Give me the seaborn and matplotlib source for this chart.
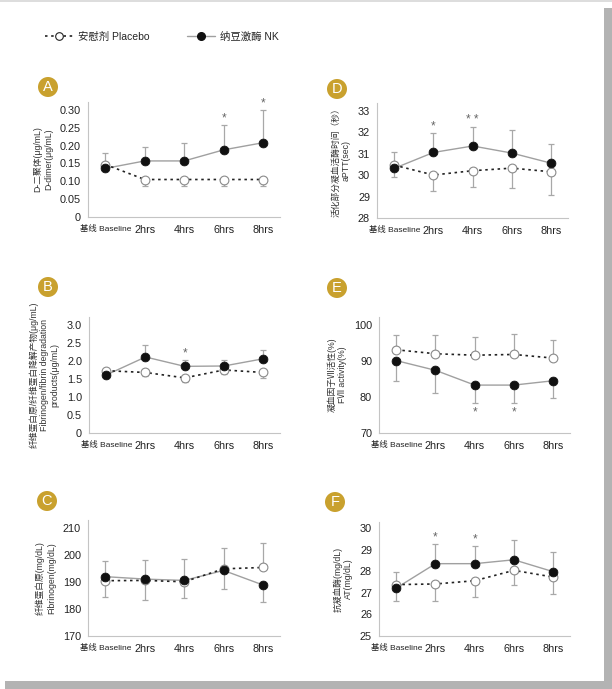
import numpy as np
import pandas as pd
import matplotlib
matplotlib.use('Agg')
import matplotlib.pyplot as plt
from matplotlib.patches import Ellipse, Rectangle
from matplotlib.lines import Line2D
import seaborn as sns

# data (mean, one-sided SD bars)
time_labels = ['基线 Baseline', '2hrs', '4hrs', '6hrs', '8hrs']

ddimer_placebo = [0.147, 0.105, 0.105, 0.105, 0.105]
ddimer_nk = [0.136, 0.157, 0.157, 0.188, 0.208]
ddimer_placebo_sd = [0.010, 0.017, 0.017, 0.017, 0.017]
ddimer_nk_sd = [0.044, 0.040, 0.049, 0.070, 0.092]
ddimer_stars = {3: '*', 4: '*'}

fdp_placebo = [1.73, 1.68, 1.53, 1.75, 1.68]
fdp_nk = [1.61, 2.11, 1.85, 1.86, 2.06]
fdp_placebo_sd = [0.05, 0.11, 0.12, 0.11, 0.15]
fdp_nk_sd = [0.05, 0.34, 0.18, 0.17, 0.24]
fdp_stars = {2: '*'}

fib_placebo = [190.5, 190.6, 190.1, 194.9, 195.4]
fib_nk = [192.0, 191.1, 190.6, 194.3, 188.9]
fib_placebo_sd = [7.3, 7.4, 8.5, 7.6, 8.9]
fib_nk_sd = [7.7, 7.8, 6.4, 6.9, 6.4]
fib_stars = {}

aptt_placebo = [30.46, 30.00, 30.20, 30.32, 30.15]
aptt_nk = [30.31, 31.05, 31.35, 31.02, 30.55]
aptt_placebo_sd = [0.54, 0.74, 0.77, 0.92, 1.10]
aptt_nk_sd = [0.77, 0.89, 0.88, 1.06, 0.91]
aptt_stars = {1: '*', 2: '* *'}

f7_placebo = [93.1, 92.0, 91.6, 91.8, 90.8]
f7_nk = [90.1, 87.4, 83.3, 83.3, 84.5]
f7_placebo_sd = [4.1, 5.1, 5.0, 5.8, 5.05]
f7_nk_sd = [5.6, 6.3, 5.1, 5.1, 4.9]
f7_stars = {2: '*', 3: '*'}

at_placebo = [27.38, 27.41, 27.56, 28.04, 27.73]
at_nk = [27.22, 28.35, 28.35, 28.53, 27.98]
at_placebo_sd = [0.74, 0.77, 0.75, 0.66, 0.80]
at_nk_sd = [0.76, 0.89, 0.83, 0.90, 0.91]
at_stars = {1: '*', 2: '*'}

sns.set_style('white')
plt.rcParams['font.family'] = ['Liberation Sans', 'Noto Sans CJK SC']

W, H = 612, 689
fig = plt.figure(figsize=(W / 100, H / 100), dpi=100)

GOLD = '#C9A12E'
GRAY = '#a8a8a8'


def px_rect(left, top, right, bottom):
    return [left / W, 1 - bottom / H, (right - left) / W, (bottom - top) / H]


def draw_panel(rect, letter, letter_xy, placebo, nk, placebo_sd, nk_sd, stars,
               ylim, yticks, yticklabels, ylabel):
    ax = fig.add_axes(rect)
    x = np.arange(len(time_labels))
    df = pd.DataFrame({
        't': np.tile(x, 2),
        'v': placebo + nk,
        'group': ['Placebo'] * len(x) + ['NK'] * len(x),
    })
    nk_up = np.mean(nk) >= np.mean(placebo)
    zeros = np.zeros(len(x))
    nk_err = [zeros, nk_sd] if nk_up else [nk_sd, zeros]
    pl_err = [placebo_sd, zeros] if nk_up else [zeros, placebo_sd]

    ax.errorbar(x, placebo, yerr=pl_err, fmt='none', ecolor=GRAY, elinewidth=0.9,
                capsize=2.5, capthick=0.9, zorder=1)
    ax.errorbar(x, nk, yerr=nk_err, fmt='none', ecolor=GRAY, elinewidth=0.9,
                capsize=2.5, capthick=0.9, zorder=1)

    sns.lineplot(data=df[df.group == 'NK'], x='t', y='v', ax=ax, color='#a0a0a0',
                 linewidth=1.0, zorder=2)
    sns.lineplot(data=df[df.group == 'Placebo'], x='t', y='v', ax=ax, color='#222222',
                 linewidth=1.2, linestyle=(0, (1.5, 2.2)), zorder=3)
    sns.scatterplot(data=df[df.group == 'Placebo'], x='t', y='v', ax=ax, s=40,
                    color='white', edgecolor='#8a8a8a', linewidth=0.8, zorder=4)
    sns.scatterplot(data=df[df.group == 'NK'], x='t', y='v', ax=ax, s=40,
                    color='#111111', edgecolor='#111111', linewidth=0.6, zorder=5)

    for i, s in stars.items():
        if nk_up:
            ax.annotate(s, (i, nk[i] + nk_sd[i]), xytext=(0, 0.5), textcoords='offset points',
                        ha='center', va='bottom', fontsize=8.5, color='#666666')
        else:
            ax.annotate(s, (i, nk[i] - nk_sd[i]), xytext=(0, -2), textcoords='offset points',
                        ha='center', va='top', fontsize=8.5, color='#666666')

    ax.set_xlim(-0.44, 4.43)
    ax.set_ylim(*ylim)
    ax.set_xticks(x)
    ax.set_xticklabels(time_labels)
    ax.set_yticks(yticks)
    ax.set_yticklabels(yticklabels)
    ax.tick_params(axis='both', direction='out', length=3, width=0.8, color='#bbbbbb',
                   labelsize=7.8, labelcolor='#222222', pad=2)
    ax.tick_params(axis='x', pad=3)
    ax.get_xticklabels()[0].set_fontsize(6)
    for side in ['top', 'right']:
        ax.spines[side].set_visible(False)
    for side in ['left', 'bottom']:
        ax.spines[side].set_color('#c4c4c4')
        ax.spines[side].set_linewidth(0.8)
    ax.set_xlabel('')
    ax.set_ylabel(ylabel, fontsize=6.3, color='#333333', labelpad=5, linespacing=1.25)

    # gold letter badge
    cx, cy = letter_xy
    fig.add_artist(Ellipse((cx / W, 1 - cy / H), 20 / W, 20 / H, transform=fig.transFigure,
                           facecolor=GOLD, edgecolor='none'))
    fig.text(cx / W, 1 - cy / H, letter, ha='center', va='center', color='white',
             fontsize=10.5)
    return ax


draw_panel(px_rect(88, 102, 280, 217), 'A', (48, 87),
           ddimer_placebo, ddimer_nk, ddimer_placebo_sd, ddimer_nk_sd, ddimer_stars,
           (0, 0.322), [0, 0.05, 0.10, 0.15, 0.20, 0.25, 0.30],
           ['0', '0.05', '0.10', '0.15', '0.20', '0.25', '0.30'],
           'D-二聚体(μg/mL)\nD-dimer(μg/mL)')
draw_panel(px_rect(89, 317, 280, 433), 'B', (48, 287),
           fdp_placebo, fdp_nk, fdp_placebo_sd, fdp_nk_sd, fdp_stars,
           (0, 3.22), [0, 0.5, 1.0, 1.5, 2.0, 2.5, 3.0],
           ['0', '0.5', '1.0', '1.5', '2.0', '2.5', '3.0'],
           '纤维蛋白原/纤维蛋白降解产物(μg/mL)\nFibrinogen/fibrin degradation\nproducts(μg/mL)')
draw_panel(px_rect(88, 520, 280, 636), 'C', (47, 501),
           fib_placebo, fib_nk, fib_placebo_sd, fib_nk_sd, fib_stars,
           (170, 213), [170, 180, 190, 200, 210],
           ['170', '180', '190', '200', '210'],
           '纤维蛋白原(mg/dL)\nFibrinogen(mg/dL)')
draw_panel(px_rect(377, 103, 568, 218), 'D', (337, 89),
           aptt_placebo, aptt_nk, aptt_placebo_sd, aptt_nk_sd, aptt_stars,
           (28, 33.35), [28, 29, 30, 31, 32, 33],
           ['28', '29', '30', '31', '32', '33'],
           '活化部分凝血活酶时间（秒）\naPTT(sec)')
draw_panel(px_rect(379, 317, 570, 433), 'E', (337, 288),
           f7_placebo, f7_nk, f7_placebo_sd, f7_nk_sd, f7_stars,
           (70, 102.2), [70, 80, 90, 100],
           ['70', '80', '90', '100'],
           '凝血因子Ⅶ活性(%)\nFⅦ activity(%)')
draw_panel(px_rect(379, 522, 570, 636), 'F', (335, 502),
           at_placebo, at_nk, at_placebo_sd, at_nk_sd, at_stars,
           (25, 30.28), [25, 26, 27, 28, 29, 30],
           ['25', '26', '27', '28', '29', '30'],
           '抗凝血酶(mg/dL)\nAT(mg/dL)')

# shared legend at the top
handles = [
    Line2D([], [], color='#222222', linewidth=1.2, linestyle=(0, (1.5, 2.2)), marker='o',
           markersize=5.5, markerfacecolor='white', markeredgecolor='#222222',
           markeredgewidth=0.8),
    Line2D([], [], color='#a0a0a0', linewidth=1.0, marker='o', markersize=5.5,
           markerfacecolor='#111111', markeredgecolor='#111111'),
]
fig.legend(handles, ['安慰剂 Placebo', '纳豆激酶 NK'], loc='center left',
           bbox_to_anchor=(36 / W, 1 - 37 / H), ncol=2, frameon=False, fontsize=7.5,
           handlelength=2.7, handletextpad=0.45, columnspacing=3.6)

# card border / shadow
fig.add_artist(Rectangle((0, 1 - 1.5 / H), 1, 1.5 / H, transform=fig.transFigure,
                         facecolor='#dddddd', edgecolor='none'))
fig.add_artist(Rectangle((604 / W, 0), 8 / W, 1 - 8 / H, transform=fig.transFigure,
                         facecolor='#b3b3b3', edgecolor='none'))
fig.add_artist(Rectangle((5 / W, 0), 1, 8 / H, transform=fig.transFigure,
                         facecolor='#b3b3b3', edgecolor='none'))

fig.savefig('out.png', dpi=100, facecolor='white')
